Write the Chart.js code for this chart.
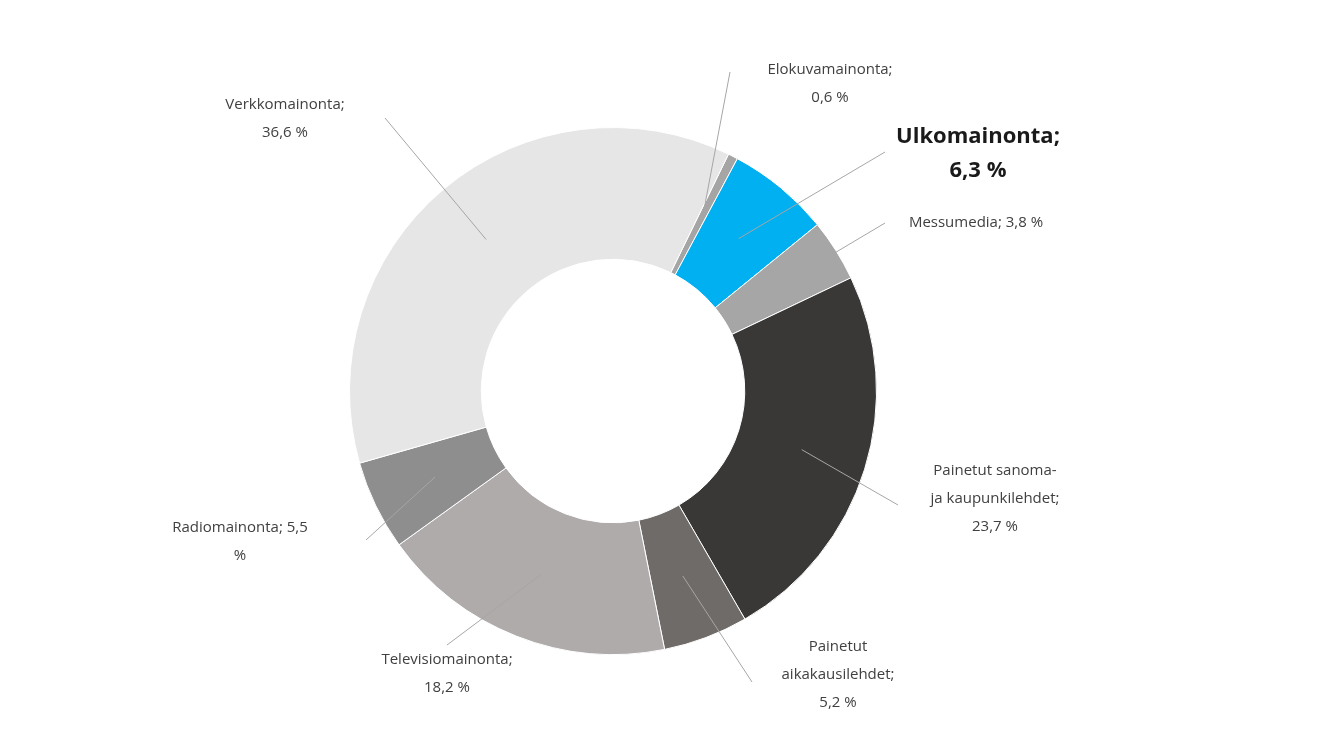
<!DOCTYPE html>
<html><head><meta charset="utf-8">
<script src="https://cdn.jsdelivr.net/npm/chart.js@4"></script>
<style>html,body{margin:0;background:#fff}</style>
</head><body>
<canvas id="c" width="1331" height="749"></canvas>
<script>
// data, clockwise from the top
const labels = ['Elokuvamainonta', 'Ulkomainonta', 'Messumedia', 'Painetut sanoma- ja kaupunkilehdet',
  'Painetut aikakausilehdet', 'Televisiomainonta', 'Radiomainonta', 'Verkkomainonta'];
const shares = [0.6, 6.3, 3.8, 23.7, 5.2, 18.2, 5.5, 36.6];
const colors = ['#a5a5a5', '#00b0f0', '#a6a6a6', '#3a3837', '#6f6b69', '#afabab', '#8e8e8e', '#e7e6e6'];

// label layout: text lines, text centre, leader end point
const labelText = [
  ['Elokuvamainonta;', '0,6 %'],
  ['Ulkomainonta;', '6,3 %'],
  ['Messumedia; 3,8 %'],
  ['Painetut sanoma-', 'ja kaupunkilehdet;', '23,7 %'],
  ['Painetut', 'aikakausilehdet;', '5,2 %'],
  ['Televisiomainonta;', '18,2 %'],
  ['Radiomainonta; 5,5', '%'],
  ['Verkkomainonta;', '36,6 %']
];
const labelPos = [[830, 70], [978, 137], [976, 223], [995, 471], [838, 647], [447, 660], [240, 528], [285, 105]];
const lineEnd = [[730, 72], [885, 152], [885, 223], [898, 505], [752, 682], [447, 645], [366, 540], [385, 118]];

const labelPlugin = {
  id: 'labels',
  afterDatasetsDraw(chart) {
    const c = chart.ctx;
    chart.getDatasetMeta(0).data.forEach((arc, i) => {
      const p = arc.getProps(['x', 'y', 'startAngle', 'endAngle', 'innerRadius', 'outerRadius']);
      const a = (p.startAngle + p.endAngle) / 2, r = (p.innerRadius + p.outerRadius) / 2;
      c.save();
      c.strokeStyle = '#a6a6a6'; c.lineWidth = 1;
      c.beginPath();
      c.moveTo(p.x + Math.cos(a) * r, p.y + Math.sin(a) * r);
      c.lineTo(lineEnd[i][0], lineEnd[i][1]);
      c.stroke();
      const bold = i === 1;
      c.font = bold ? 'bold 22px "Open Sans"' : '15px "Open Sans"';
      c.fillStyle = bold ? '#1a1a1a' : '#404040';
      c.textAlign = 'center'; c.textBaseline = 'middle';
      const lh = bold ? 34 : 28;
      labelText[i].forEach((t, k) => c.fillText(t, labelPos[i][0], labelPos[i][1] + k * lh));
      c.restore();
    });
  }
};

new Chart(document.getElementById('c'), {
  type: 'doughnut',
  data: { labels, datasets: [{ data: shares, backgroundColor: colors, borderColor: '#fff', borderWidth: 1 }] },
  options: {
    responsive: false, animation: false, cutout: '50%', rotation: 26,
    layout: { padding: { top: 127, bottom: 94, left: 0, right: 105 } },
    plugins: { legend: { display: false }, tooltip: { enabled: false } }
  },
  plugins: [labelPlugin]
});
</script>
</body></html>
